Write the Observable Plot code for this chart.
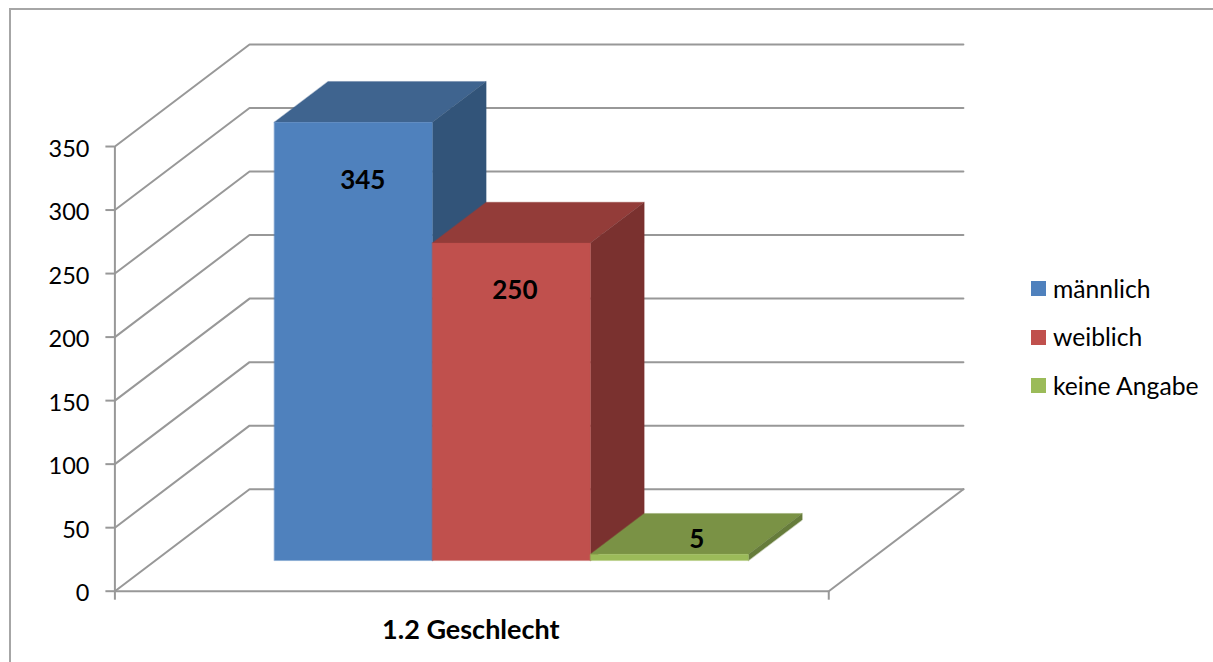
<!DOCTYPE html>
<html lang="de">
<head>
<meta charset="utf-8">
<script src="https://cdn.jsdelivr.net/npm/d3@7"></script>
<script src="https://cdn.jsdelivr.net/npm/@observablehq/plot@0.6"></script>
<style>
html,body{margin:0;padding:0;background:#fff;overflow:hidden}
body{width:1213px;height:662px;position:relative;font-family:Lato,sans-serif}
#frame{position:absolute;left:9px;top:7.5px;right:-5px;bottom:-5px;border-left:2px solid #a6a6a6;border-top:2px solid #a6a6a6}
#chart{position:absolute;left:0;top:0}
#chart svg{display:block;background:transparent}
#legend{position:absolute;left:1031px;top:264px;font-size:24.7px;color:#000}
.row{display:flex;align-items:center;height:48.5px}
.sw{width:15px;height:15px;margin-right:7px;position:relative;top:0.5px}
</style>
</head>
<body>
<div id="frame"></div>
<div id="chart"></div>
<div id="legend"></div>
<script>
const categories = ["männlich", "weiblich", "keine Angabe"];
const values = [345, 250, 5];
const frontColors = ["#4f81bd", "#c0504d", "#9bbb59"];
const topColors = ["#3f648f", "#933c39", "#7a9245"];
const sideColors = ["#325479", "#7a312f", "#667c3b"];
const yTicks = [0, 50, 100, 150, 200, 250, 300, 350];
const groupLabel = "1.2 Geschlecht";
const labelNudges = [[9.5, 58], [3.5, 48], [27.5, -15]];

// Oblique projection of (across, value, depth) onto the flat x/y scales
const depthX = 0.1886, depthY = 80.3, valueMax = 350;
const gap = 1 / 6, barWidth = 0.2222 - 0.0008, depthFront = 0.3, depthBack = 0.7;
const P = (f, v, d) => ({x: f + d * depthX, y: v + d * depthY});

const gridColor = "#989898";
const lineW = 2;
const gridLines = yTicks.map(v => [P(0, v, 0), P(0, v, 1), P(1, v, 1)]);
const floorEdge = [P(1, 0, 0), P(1, 0, 1)];

const polygon = (pts, fill) => Plot.line(pts, {x: "x", y: "y", fill, stroke: fill, strokeWidth: 0.3, curve: "linear-closed"});

const barMarks = values.flatMap((v, i) => {
  const a = gap + i * barWidth, b = a + barWidth, f = depthFront, k = depthBack;
  return [
    polygon([P(a, v, f), P(b, v, f), P(b, v, k), P(a, v, k)], topColors[i]),
    polygon([P(b, 0, f), P(b, v, f), P(b, v, k), P(b, 0, k)], sideColors[i]),
    polygon([P(a, 0, f), P(b, 0, f), P(b, v, f), P(a, v, f)], frontColors[i])
  ];
});

const labelMarks = values.map((v, i) => {
  const c = P(gap + i * barWidth + barWidth / 2, v, depthFront);
  return Plot.text([String(v)], {
    x: () => c.x, y: () => c.y, text: d => d,
    dx: labelNudges[i][0], dy: labelNudges[i][1],
    fontSize: 26, fontWeight: 700, fill: "#000"
  });
});

const plot = Plot.plot({
  width: 1213, height: 662,
  marginLeft: 114.4, marginRight: 250.1, marginTop: 44, marginBottom: 71.3,
  style: {fontFamily: "Lato, sans-serif", background: "transparent", color: "#000"},
  x: {domain: [0, 1 + depthX], axis: null},
  y: {domain: [0, valueMax + depthY], axis: null},
  marks: [
    ...gridLines.map(l => Plot.line(l, {x: "x", y: "y", stroke: gridColor, strokeWidth: lineW})),
    Plot.line(floorEdge, {x: "x", y: "y", stroke: gridColor, strokeWidth: lineW}),
    Plot.ruleX([0], {y1: 0, y2: valueMax, stroke: gridColor, strokeWidth: lineW}),
    Plot.ruleY([0], {x1: 0, x2: 1, stroke: gridColor, strokeWidth: lineW}),
    Plot.axisY(yTicks, {text: null, tickSize: 9, stroke: gridColor, strokeWidth: lineW, label: null}),
    Plot.axisY(yTicks, {tickSize: 0, tickPadding: 25.5, dy: 2.5, fill: "#000", fontSize: 23.5, tickFormat: d => d, label: null}),
    Plot.axisX([0, 1], {text: null, tickSize: 9, stroke: gridColor, strokeWidth: lineW, label: null}),
    ...barMarks,
    ...labelMarks,
    Plot.text([groupLabel], {x: () => 0.5, y: () => 0, text: d => d, dx: -1, dy: 39.5, fontSize: 27, fontWeight: 700, fill: "#000"})
  ]
});
document.getElementById("chart").append(plot);

const legend = d3.select("#legend").selectAll("div").data(categories).join("div").attr("class", "row");
legend.append("span").attr("class", "sw").style("background", (d, i) => frontColors[i]);
legend.append("span").text(d => d);
</script>
</body>
</html>
